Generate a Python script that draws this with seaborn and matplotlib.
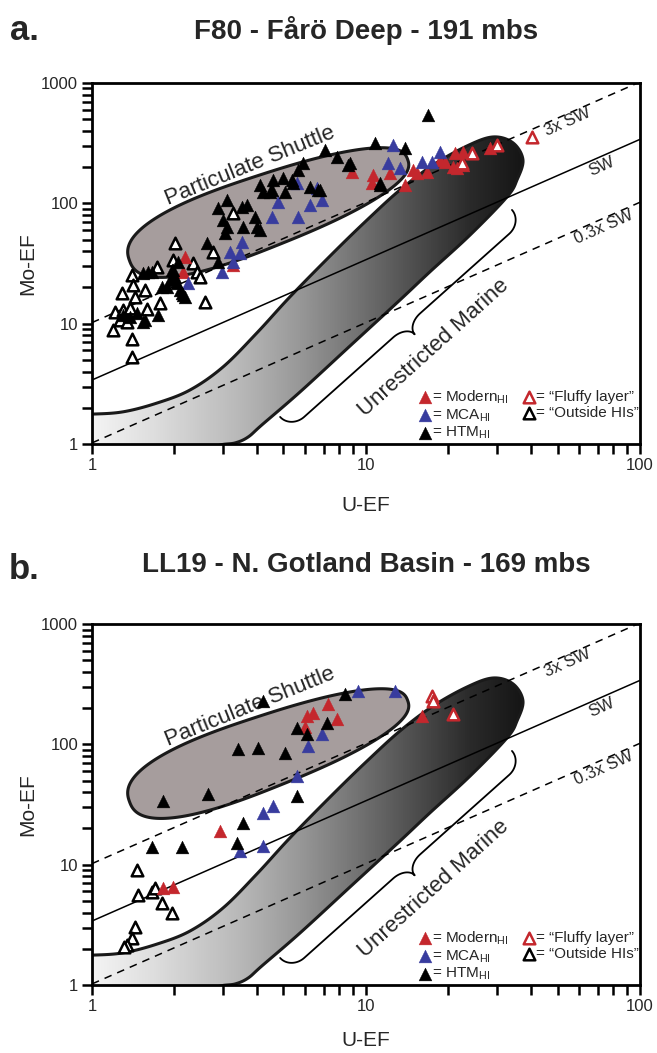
import numpy as np
import pandas as pd
import matplotlib
matplotlib.use('Agg')
import matplotlib.pyplot as plt
import seaborn as sns
from matplotlib.patches import Polygon
from matplotlib.colors import LinearSegmentedColormap
from matplotlib.ticker import LogLocator, NullFormatter

sns.set_style('ticks')
plt.rcParams['font.family'] = ['Liberation Sans', 'DejaVu Sans']
plt.rcParams['mathtext.fontset'] = 'custom'
plt.rcParams['mathtext.rm'] = 'Liberation Sans'
plt.rcParams['mathtext.it'] = 'Liberation Sans:italic'
plt.rcParams['mathtext.bf'] = 'Liberation Sans:bold'

# ---- data: F80 - Faro Deep (U-EF, Mo-EF) ----
f80_modern_u = [8.9, 10.6, 10.5, 12.2, 13.9, 14.8, 15.4, 16.7, 18.6, 19.4, 21.1, 22.6, 20.8, 21.5, 22.6, 28.4, 2.19, 2.15, 3.27]
f80_modern_mo = [182, 172, 148, 179, 142, 190, 179, 182, 230, 221, 262, 267, 201, 197, 208, 289, 35.8, 26.9, 30.8]
f80_mca_u = [12.5, 12.0, 13.3, 18.6, 17.4, 16.0, 4.77, 4.54, 5.65, 6.25, 6.91, 6.63, 5.60, 3.53, 3.19, 3.47, 3.27, 2.98, 2.24]
f80_mca_mo = [306, 217, 197, 267, 221, 221, 103, 77, 77, 97, 107, 134, 148, 48, 39.5, 38.7, 32.6, 26.9, 21.8]
f80_htm_u = [10.8, 16.8, 7.09, 7.84, 8.60, 5.89, 5.65, 5.37, 4.58, 4.98, 4.10, 4.21, 4.54, 5.06, 6.25,
             6.80, 11.25, 2.88, 3.11, 3.53, 3.68, 3.01, 3.11, 3.06, 3.56, 3.94, 4.00, 4.10, 2.63, 2.88,
             2.06, 1.96, 2.01, 2.04, 2.13, 2.19, 1.535, 1.60, 1.656, 1.80, 1.88, 1.74, 1.56, 1.535, 1.376,
             1.459, 1.297, 2.15, 2.10, 1.93, 1.975, 13.9, 8.74, 11.25, 6.68, 4.46, 5.42]
f80_htm_mo = [318, 543, 278, 243, 208, 217, 190, 157, 157, 163, 142, 124, 129, 124, 137,
              129, 142, 92, 107, 93, 97, 73, 64, 57, 64, 77, 64, 60, 47, 32.6,
              32.6, 27.9, 24.4, 21.8, 18.0, 16.7, 26.4, 26.9, 26.9, 20.2, 20.2, 11.8, 10.7, 10.3, 11.4,
              12.3, 11.8, 17.3, 19.1, 23.1, 27.9, 289, 217, 148, 129, 124, 148]
f80_fluffy_u = [40.4, 30.1, 24.4, 22.4]
f80_fluffy_mo = [356, 306, 262, 217]
f80_outside_u = [2.01, 3.27, 2.76, 2.34, 2.42, 2.48, 1.73, 1.975, 1.40, 1.41, 1.56, 1.29, 1.435, 1.77,
                 2.585, 1.213, 1.297, 1.376, 1.587, 1.265, 1.342, 1.193, 1.40, 1.40]
f80_outside_mo = [47, 83, 39.5, 32.0, 26.9, 24.4, 29.6, 33.9, 25.4, 21.0, 19.1, 18.0, 16.7, 14.9,
                  15.2, 12.5, 13.0, 13.5, 13.3, 10.7, 10.3, 8.87, 7.47, 5.28]

# ---- data: LL19 - N. Gotland Basin ----
ll19_modern_u = [7.27, 6.41, 6.09, 7.84, 16.0, 2.93, 1.82, 1.975, 6.0]
ll19_modern_mo = [217, 183, 173, 163, 173, 19.2, 6.36, 6.49, 138]
ll19_mca_u = [9.35, 12.76, 6.91, 6.14, 5.60, 4.58, 4.21, 3.47, 4.21]
ll19_mca_mo = [278, 278, 122, 97, 55, 31, 27.1, 13.1, 14.4]
ll19_htm_u = [4.21, 8.38, 5.60, 6.09, 7.21, 3.41, 4.04, 5.06, 1.82, 2.65, 5.60, 3.56, 1.656, 2.13, 3.38]
ll19_htm_mo = [230, 263, 137, 122, 151, 92, 94, 85, 34.1, 39, 37.5, 22.4, 13.9, 13.9, 15.0]
ll19_fluffy_u = [17.4, 17.6, 20.8]
ll19_fluffy_mo = [253, 230, 179]
ll19_outside_u = [1.459, 1.472, 1.656, 1.698, 1.80, 1.959, 1.435, 1.40, 1.342, 1.31]
ll19_outside_mo = [8.97, 5.57, 5.89, 6.36, 4.78, 3.95, 3.03, 2.45, 2.14, 2.05]

# seawater Mo/U ratio lines
sw_ratio = 3.4
sw_mult = [3, 1, 0.3]
sw_labels = ['3x SW', 'SW', '0.3x SW']
sw_label_u = [54.6, 72.7, 73.7]

# unrestricted marine field outline (U-EF, Mo-EF)
marine_u = [0.8, 1.0, 1.30, 1.73, 2.28, 3.01, 4.00, 5.28, 7.59, 10.1, 13.3, 17.56, 23.4, 29.1,
            34.4, 37.4, 35.6, 32.7, 24.0, 17.1, 13.3, 8.75, 5.74, 4.17, 3.71, 3.33, 2.9, 2.5, 0.8]
marine_mo = [1.77, 1.77, 1.85, 2.19, 2.81, 4.37, 8.38, 16.7, 38.7, 72.8, 129, 208, 300, 356,
             318, 230, 157, 113, 54.6, 26.9, 15.7, 6.53, 2.70, 1.44, 1.14, 1.02, 0.97, 0.8, 0.8]

RED = '#c4272d'
BLUE = '#383c9e'
groups = [
    ('outside', 'black', True, '= “Outside HIs”'),
    ('modern', RED, False, '= Modern$_{\\rm HI}$'),
    ('mca', BLUE, False, '= MCA$_{\\rm HI}$'),
    ('htm', 'black', False, '= HTM$_{\\rm HI}$'),
    ('fluffy', RED, True, '= “Fluffy layer”'),
]
legend_order = ['modern', 'mca', 'htm', 'fluffy', 'outside']

W_PX, H_PX = 548, 361
K = (H_PX / 3) / (W_PX / 2)   # y-decade length relative to x-decade


def to_vis(u, mo):
    return np.log10(u), np.log10(mo) * K


def from_vis(vx, vy):
    return 10 ** np.asarray(vx), 10 ** (np.asarray(vy) / K)


def catmull(pts, n=14):
    P = np.vstack([pts[0], pts, pts[-1]])
    out = []
    t = np.linspace(0, 1, n, endpoint=False)[:, None]
    for i in range(1, len(P) - 2):
        p0, p1, p2, p3 = P[i - 1], P[i], P[i + 1], P[i + 2]
        out.append(0.5 * (2 * p1 + (-p0 + p2) * t + (2 * p0 - 5 * p1 + 4 * p2 - p3) * t ** 2
                          + (-p0 + 3 * p1 - 3 * p2 + p3) * t ** 3))
    out.append(P[-2][None])
    return np.vstack(out)


def shuttle_outline():
    # tapered superellipse in visual space
    cx, cy = to_vis(4.41, 88)
    a = 148 / 274
    th = np.deg2rad(20)
    phi = np.linspace(0, 2 * np.pi, 240)
    n = 2.5
    cu = np.cos(phi)
    su = np.sin(phi)
    u = a * np.sign(cu) * np.abs(cu) ** (2 / n)
    b = (36.0 - 5.0 * (u / a)) / 274
    v = b * np.sign(su) * np.abs(su) ** (2 / n)
    pts = np.column_stack([u, v])
    rot = np.array([[np.cos(th), -np.sin(th)], [np.sin(th), np.cos(th)]])
    pts = pts @ rot.T + [cx, cy]
    uu, mo = from_vis(pts[:, 0], pts[:, 1])
    return np.column_stack([uu, mo])


def bez(p0, p1, p2, p3, n=20):
    t = np.linspace(0, 1, n)[:, None]
    return ((1 - t) ** 3) * p0 + 3 * ((1 - t) ** 2) * t * p1 + 3 * (1 - t) * t ** 2 * p2 + t ** 3 * p3


def brace_outline():
    p1 = np.array(to_vis(4.86, 1.677))
    p2 = np.array(to_vis(34.1, 88.1))
    d = p2 - p1
    L = np.hypot(*d)
    d = d / L
    nrm = np.array([d[1], -d[0]])
    r, h, c = 18 / 274, 16 / 274, 28 / 274
    m = L / 2
    P = lambda s, t: np.array([s, t])
    segs = [bez(P(0, 0), P(0, 0.55 * h), P(0.45 * r, h), P(r, h)),
            bez(P(r, h), P(r, h), P(m - r, h), P(m - r, h), 2),
            bez(P(m - r, h), P(m - 0.45 * r, h), P(m, h + 0.45 * (c - h)), P(m, c)),
            bez(P(m, c), P(m, h + 0.45 * (c - h)), P(m + 0.45 * r, h), P(m + r, h)),
            bez(P(m + r, h), P(m + r, h), P(L - r, h), P(L - r, h), 2),
            bez(P(L - r, h), P(L - 0.45 * r, h), P(L, 0.55 * h), P(L, 0))]
    loc = np.vstack(segs)
    pts = p1 + loc[:, :1] * d + loc[:, 1:] * nrm
    return from_vis(pts[:, 0], pts[:, 1])


marine_cmap = LinearSegmentedColormap.from_list('marine', [
    (0.0, '#f4f4f4'), (0.11, '#dedede'), (0.27, '#b8b8b8'), (0.38, '#979797'),
    (0.56, '#585858'), (0.69, '#2a2a2a'), (0.80, '#121212'), (1.0, '#101010')])


def draw_panel(ax, data, xlabelpad):
    ax.set_xscale('log')
    ax.set_yscale('log')
    ax.set_autoscale_on(False)
    ax.set_xlim(1, 100)
    ax.set_ylim(1, 1000)

    # particulate shuttle field
    shut = Polygon(shuttle_outline(), closed=True, facecolor='#a69d9d',
                   edgecolor='#1a1a1a', lw=2.2, zorder=1.5)
    ax.add_patch(shut)

    # unrestricted marine field with gradient
    vx, vy = to_vis(np.array(marine_u), np.array(marine_mo))
    sm = catmull(np.column_stack([vx, vy]))
    mu, mm = from_vis(sm[:, 0], sm[:, 1])
    marine = Polygon(np.column_stack([mu, mm]), closed=True, facecolor='none',
                     edgecolor='#1a1a1a', lw=2.2, zorder=2.1)
    ax.add_patch(marine)
    im = ax.imshow(np.linspace(0, 1, 512)[None, :], cmap=marine_cmap, extent=(0, 1, 0, 1),
                   transform=ax.transAxes, aspect='auto', zorder=2, interpolation='bilinear')
    im.set_clip_path(marine)
    ax.set_xlim(1, 100)
    ax.set_ylim(1, 1000)

    # seawater lines
    u_line = np.array([1.0, 100.0])
    offs = [0.85, 0.82, 0.84]
    for mult, lab, lu, fo in zip(sw_mult, sw_labels, sw_label_u, offs):
        ls = '-' if mult == 1 else (0, (5, 4))
        ax.plot(u_line, sw_ratio * mult * u_line, color='black', lw=1.1, ls=ls, zorder=3)
        ax.text(lu, sw_ratio * mult * lu * fo, lab, rotation=24, rotation_mode='anchor',
                ha='center', va='center', fontsize=12, zorder=3)

    bu, bm = brace_outline()
    ax.plot(bu, bm, color='black', lw=1.3, zorder=3)

    ax.text(3.78, 205, 'Particulate Shuttle', rotation=22, rotation_mode='anchor',
            ha='center', va='center', fontsize=16, zorder=3)
    ax.text(17.6, 6.3, 'Unrestricted Marine', rotation=42, rotation_mode='anchor',
            ha='center', va='center', fontsize=16, zorder=3)

    handles = {}
    for key, color, hollow, label in groups:
        sub = data[data['group'] == key]
        if hollow:
            kw = dict(s=70, facecolor='white', edgecolor=color, linewidth=1.8)
        else:
            kw = dict(s=85, facecolor=color, edgecolor=color, linewidth=0.3)
        sns.scatterplot(data=sub, x='U', y='Mo', marker='^', ax=ax, zorder=5,
                        label=label, legend=False, **kw)
        handles[key] = (ax.collections[-1], label)

    hs = [handles[k][0] for k in legend_order]
    ls_ = [handles[k][1] for k in legend_order]
    ax.legend(hs, ls_, ncol=2, loc='lower right', bbox_to_anchor=(1.01, -0.01), frameon=False,
              fontsize=11, handletextpad=0.0, columnspacing=0.8, labelspacing=0.1,
              handlelength=1.0, borderaxespad=0.2, borderpad=0.2)

    ax.set_xticks([1, 10, 100])
    ax.set_xticklabels(['1', '10', '100'])
    ax.set_yticks([1, 10, 100, 1000])
    ax.set_yticklabels(['1', '10', '100', '1000'])
    ax.xaxis.set_minor_locator(LogLocator(base=10, subs=np.arange(2, 10)))
    ax.yaxis.set_minor_locator(LogLocator(base=10, subs=np.arange(2, 10)))
    ax.xaxis.set_minor_formatter(NullFormatter())
    ax.yaxis.set_minor_formatter(NullFormatter())
    ax.tick_params(which='both', direction='out', length=7, width=1.8, color='black',
                   labelsize=12, pad=3)
    for sp in ax.spines.values():
        sp.set_linewidth(2)
        sp.set_color('black')
    ax.set_xlabel('U-EF', fontsize=15, labelpad=xlabelpad)
    ax.set_ylabel('Mo-EF', fontsize=15, labelpad=3)
    ax.set_xlim(1, 100)
    ax.set_ylim(1, 1000)


def build_df(prefix):
    rows = []
    for key in ['modern', 'mca', 'htm', 'fluffy', 'outside']:
        us = globals()[f'{prefix}_{key}_u']
        ms = globals()[f'{prefix}_{key}_mo']
        rows.append(pd.DataFrame({'U': us, 'Mo': ms, 'group': key}))
    return pd.concat(rows, ignore_index=True)


fig = plt.figure(figsize=(6.57, 10.53), dpi=100)
ax_a = fig.add_axes([0.1400, 0.5784, 0.8341, 0.3428])
ax_b = fig.add_axes([0.1400, 0.0646, 0.8341, 0.3428])

draw_panel(ax_a, build_df('f80'), 17)
draw_panel(ax_b, build_df('ll19'), 12)

fig.text(0.037, 0.9715, 'a.', fontsize=25, fontweight='bold', ha='center', va='center')
fig.text(0.557, 0.9715, 'F80 - Fårö Deep - 191 mbs', fontsize=20, fontweight='bold',
         ha='center', va='center')
fig.text(0.037, 0.4587, 'b.', fontsize=25, fontweight='bold', ha='center', va='center')
fig.text(0.557, 0.4635, 'LL19 - N. Gotland Basin - 169 mbs', fontsize=20, fontweight='bold',
         ha='center', va='center')

fig.savefig('out.png', dpi=100)
